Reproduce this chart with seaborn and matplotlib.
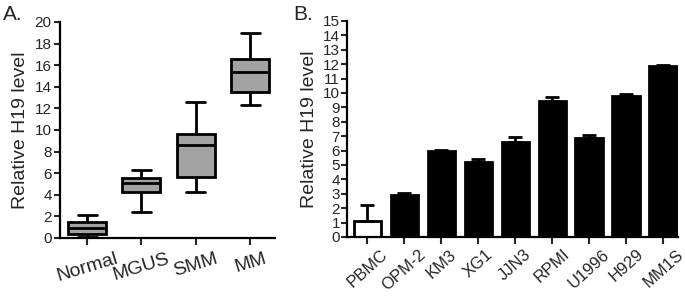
import numpy as np
import pandas as pd
import matplotlib
matplotlib.use("Agg")
import matplotlib.pyplot as plt
import seaborn as sns

# Panel A: five-number summaries (min, q1, median, q3, max)
grupos = ["Normal", "MGUS", "SMM", "MM"]
normal_vals = [0.1, 0.37, 0.97, 1.46, 2.13]
mgus_vals = [2.37, 4.26, 5.08, 5.54, 6.33]
smm_vals = [4.26, 5.63, 8.65, 9.65, 12.57]
mm_vals = [12.33, 13.49, 15.34, 16.6, 18.97]

# Panel B: cell lines, mean and upper error
lineas = ["PBMC", "OPM-2", "KM3", "XG1", "JJN3", "RPMI", "U1996", "H929", "MM1S"]
medias = [1.08, 2.89, 5.96, 5.2, 6.63, 9.45, 6.88, 9.82, 11.86]
errores = [1.17, 0.15, 0.07, 0.24, 0.32, 0.3, 0.22, 0.12, 0.1]
colores_barra = ["white", "black", "black", "black", "black", "black", "black", "black", "black"]

sns.set_style("ticks")
plt.rcParams["font.family"] = ["Liberation Sans", "DejaVu Sans"]

fig = plt.figure(figsize=(6.85, 3.0), dpi=100)
ax1 = fig.add_axes([0.0876, 0.2067, 0.314, 0.72])
ax2 = fig.add_axes([0.5066, 0.21, 0.483, 0.72])

# --- A ---
df_a = pd.DataFrame({
    "grupo": np.repeat(grupos, 5),
    "valor": normal_vals + mgus_vals + smm_vals + mm_vals,
})
sns.boxplot(data=df_a, x="grupo", y="valor", ax=ax1, color="#a3a3a3",
            linecolor="black", linewidth=2, width=0.7, whis=(0, 100),
            saturation=1, fliersize=0)
ax1.set_xlim(-0.5, 3.46)
ax1.set_ylim(0, 20)
ax1.set_yticks(range(0, 21, 2))
ax1.set_xlabel("")
ax1.set_ylabel("Relative H19 level", fontsize=14)
ax1.tick_params(axis="y", labelsize=11, width=1.5, length=4, pad=2)
ax1.tick_params(axis="x", labelsize=14, width=1.5, length=5, pad=4)
for lab in ax1.get_xticklabels():
    lab.set_rotation(17)
    lab.set_ha("center")

# --- B ---
df_b = pd.DataFrame({"linea": lineas, "media": medias})
sns.barplot(data=df_b, x="linea", y="media", ax=ax2, hue="linea",
            palette=colores_barra, edgecolor="black", linewidth=2,
            width=0.74, legend=False, saturation=1)
ax2.errorbar(range(len(lineas)), medias, yerr=[np.zeros(len(errores)), errores],
             fmt="none", ecolor="black", elinewidth=2, capsize=5, capthick=2)
ax2.set_xlim(-0.55, 8.4)
ax2.set_ylim(0, 15)
ax2.set_yticks(range(0, 16))
ax2.set_xlabel("")
ax2.set_ylabel("Relative H19 level", fontsize=14)
ax2.tick_params(axis="y", labelsize=11, width=1.5, length=4, pad=1)
ax2.tick_params(axis="x", labelsize=12, width=1.5, length=5, pad=2)
for lab in ax2.get_xticklabels():
    lab.set_rotation(42)
    lab.set_ha("center")

for ax in (ax1, ax2):
    sns.despine(ax=ax)
    for s in ("left", "bottom"):
        ax.spines[s].set_linewidth(1.6)
        ax.spines[s].set_color("black")

fig.text(0.005, 0.985, "A.", fontsize=15, va="top", ha="left")
fig.text(0.428, 0.985, "B.", fontsize=15, va="top", ha="left")

fig.savefig("out.png", dpi=100)
